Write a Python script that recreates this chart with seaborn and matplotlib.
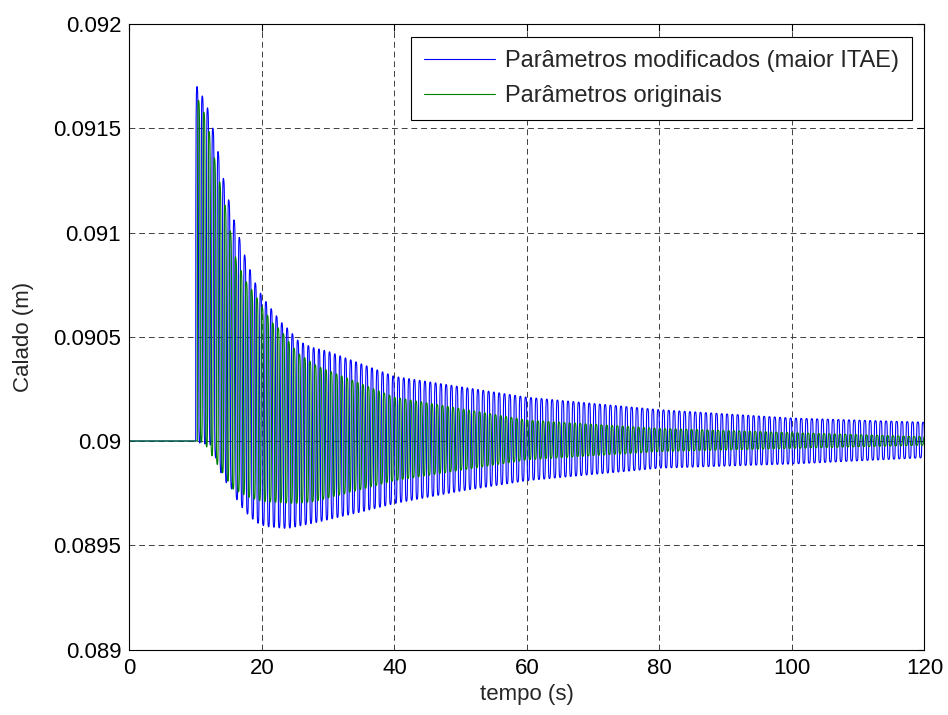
import numpy as np
import pandas as pd
import seaborn as sns
import matplotlib.pyplot as plt
from matplotlib.ticker import FuncFormatter

# Envelope readings (time in s, draft in m) for each response
onset = 10.0          # disturbance starts here; flat at the setpoint before
setpoint = 0.09
period = 0.8          # oscillation period of both responses
orig_lag = 0.3        # phase lag of the original response, in periods

mod_upper_t = [10.2, 11.6, 13.0, 14.1, 15.5, 17.5, 18.8, 20.1, 21.5, 22.9, 24.2, 25.5,
               27.5, 30, 35, 40, 50, 60, 70, 80, 90, 100, 110, 120]
mod_upper_v = [0.09170, 0.09162, 0.09145, 0.09127, 0.09109, 0.09088, 0.09077, 0.09069,
               0.09063, 0.09057, 0.09053, 0.09048, 0.09045, 0.09043, 0.09037, 0.09031,
               0.09026, 0.09021, 0.09018, 0.09015, 0.09013, 0.09011, 0.09010, 0.09009]
mod_lower_t = [10.3, 10.6, 12.4, 13.6, 14.6, 15.1, 16.5, 17.8, 19.1, 20.5, 23.8, 26.8,
               28.3, 35, 40, 50, 60, 70, 80, 100, 120]
mod_lower_v = [0.09000, 0.08999, 0.08998, 0.08986, 0.08980, 0.08979, 0.08970, 0.08965,
               0.08961, 0.08959, 0.08958, 0.08960, 0.08961, 0.08966, 0.08970, 0.08976,
               0.08981, 0.08984, 0.08987, 0.08989, 0.08992]

orig_upper_t = [10.2, 11.6, 13.0, 14.5, 16.1, 17.5, 18.8, 20.1, 21.5, 22.9, 24.2, 25.5,
                28.3, 40, 60, 70, 80, 100, 120]
orig_upper_v = [0.09165, 0.09155, 0.09133, 0.09112, 0.09087, 0.09077, 0.09071, 0.09064,
                0.09057, 0.09053, 0.09047, 0.09042, 0.09036, 0.09021, 0.09010, 0.09008,
                0.09006, 0.09004, 0.09002]
orig_lower_t = [10.3, 11.3, 13.0, 15.6, 18, 20, 25, 28, 40, 60, 80, 100, 120]
orig_lower_v = [0.09000, 0.08999, 0.08990, 0.08977, 0.08973, 0.08971, 0.08970, 0.08971,
                0.08981, 0.08991, 0.08995, 0.089965, 0.08998]

labels = ["Parâmetros modificados (maior ITAE)", "Parâmetros originais"]
x_ticks = [0, 20, 40, 60, 80, 100, 120]
y_ticks = [0.089, 0.0895, 0.09, 0.0905, 0.091, 0.0915, 0.092]

t = np.arange(0.0, 120.0, 0.004)


def response(up_t, up_v, lo_t, lo_v, lag):
    """Oscillation between the lower and upper envelopes, flat before the onset."""
    upper = np.interp(t, up_t, up_v)
    lower = np.interp(t, lo_t, lo_v)
    mid = 0.5 * (upper + lower)
    half = 0.5 * (upper - lower)
    phase = 2 * np.pi * ((t - onset) / period - lag)
    # squared-off wave: steep edges, flattened crests
    wave = np.tanh(2.5 * np.sin(phase)) / np.tanh(2.5)
    y = mid + half * wave
    return np.where(t < onset + lag * period, setpoint, y)


df = pd.concat([
    pd.DataFrame({"tempo": t,
                  "calado": response(mod_upper_t, mod_upper_v, mod_lower_t, mod_lower_v, 0.0),
                  "serie": labels[0]}),
    pd.DataFrame({"tempo": t,
                  "calado": response(orig_upper_t, orig_upper_v, orig_lower_t, orig_lower_v, orig_lag),
                  "serie": labels[1]}),
])

sns.set_theme(style="white")
plt.rcParams['font.family'] = ['Liberation Sans', 'DejaVu Sans']
plt.rcParams['font.size'] = 16

fig = plt.figure(figsize=(9.48, 7.15), dpi=100)
ax = fig.add_axes([0.1366, 0.0916, 0.9752 - 0.1366, 0.9664 - 0.0916])

sns.lineplot(data=df, x="tempo", y="calado", hue="serie",
             palette=["#0000ff", "#008000"], estimator=None, sort=False,
             linewidth=0.8, ax=ax)

ax.set_xlim(0, 120)
ax.set_ylim(0.089, 0.092)
ax.set_xticks(x_ticks)
ax.set_yticks(y_ticks)
ax.yaxis.set_major_formatter(FuncFormatter(lambda v, p: f"{v:g}"))
ax.set_xlabel("tempo (s)", fontsize=16, labelpad=4)
ax.set_ylabel("Calado (m)", fontsize=16, labelpad=14)
ax.tick_params(direction="in", length=5, width=0.8, top=True, right=True,
               labelsize=16, colors="black", pad=6)
ax.set_axisbelow(True)
ax.grid(True, color="#404040", linestyle=(0, (6, 4)), linewidth=0.7)
for s in ax.spines.values():
    s.set_color("black")
    s.set_linewidth(0.8)

leg = ax.legend(loc="upper right", fontsize=17, frameon=True, fancybox=False,
                edgecolor="black", framealpha=1, borderaxespad=0.55,
                handlelength=3.0, handletextpad=0.4, labelspacing=0.55,
                borderpad=0.55)
leg.get_frame().set_linewidth(0.8)
for line in leg.get_lines():
    line.set_linewidth(0.8)

fig.savefig("out.png", dpi=100, facecolor="white")
